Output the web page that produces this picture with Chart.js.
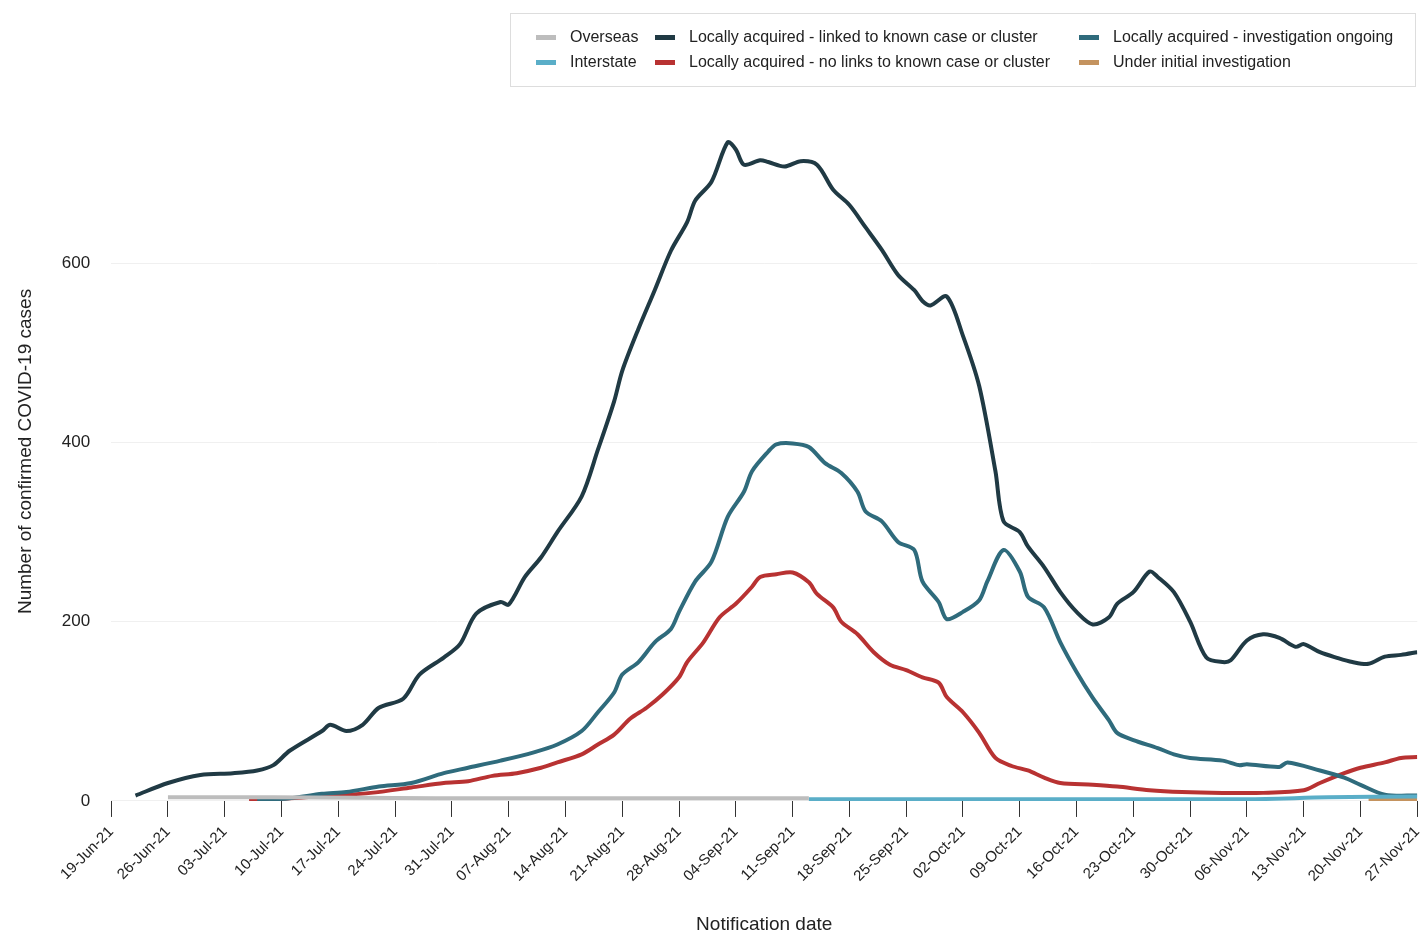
<!DOCTYPE html>
<html><head><meta charset="utf-8">
<script src="https://cdn.jsdelivr.net/npm/chart.js@4"></script>
<style>
body{margin:0;background:#fff;font-family:Arial,"Liberation Sans",sans-serif;overflow:hidden}
#wrap{position:relative;width:1424px;height:936px;overflow:hidden}
#legend{position:absolute;left:510px;top:13px;width:906px;height:74px;border:1px solid #ddd;box-sizing:border-box;font-size:16px;color:#222}
.it{position:absolute;display:flex;align-items:center;white-space:nowrap}
.sw{width:20px;height:5px;margin-right:14px}
</style></head><body>
<div id="wrap"><canvas id="c" width="1436" height="936"></canvas>
<div id="legend"></div></div>
<script>
const startDate = new Date(2021,5,19);
const linkedDays = [3,7,11,15,18,20,22,26,27,29,31,33,36,38,41,43,45,48,49,51,53,55,58,60,62,63,65,67,69,71,72,74,76,77,78,80,81,83,85,87,89,91,93,95,97,99,100,101,103,105,107,109,110,112,113,115,117,119,121,123,124,126,128,129,131,133,135,137,138,140,142,144,146,147,149,151,153,155,157,159,161];
const linkedVals = [6,20,29,31,34,40,56,78,85,78,85,104,114,141,160,175,209,222,219,250,272,300,340,392,446,480,527,570,614,646,670,691,735,727,710,715,713,708,714,710,682,665,640,615,587,570,558,553,563,519,463,368,312,300,284,261,233,211,197,205,220,233,256,250,233,200,160,155,157,179,186,182,172,175,166,160,155,153,161,163,166];
const invDays = [18,22,26,29,33,37,41,44,48,52,55,58,60,62,63,65,67,69,70,72,74,76,78,79,81,82,84,86,88,90,92,93,95,97,99,100,102,103,105,107,108,110,112,113,115,117,119,121,123,124,126,129,131,133,137,139,140,144,145,149,152,154,157,161];
const invVals = [1,3,8,10,16,20,31,37,45,54,63,78,99,121,141,155,177,192,211,245,267,317,345,368,390,398,399,395,377,366,345,323,312,289,280,245,222,203,211,224,245,280,256,228,216,177,144,115,90,76,68,59,52,48,45,40,41,38,43,34,26,18,7,6];
const noLinkDays = [17,22,27,32,37,41,44,47,50,53,55,58,60,62,64,66,68,70,71,73,75,77,79,80,82,84,86,87,89,90,92,94,96,98,100,102,103,105,107,109,111,113,115,117,121,124,128,132,137,142,147,149,152,154,157,159,161];
const noLinkVals = [1,3,6,9,15,20,22,28,31,37,43,52,63,74,92,104,119,138,155,177,205,220,239,250,253,255,244,231,216,200,186,166,152,146,138,132,116,99,76,48,39,34,26,20,18,16,12,10,9,9,12,20,31,37,43,48,49];
const overseasDays = [7,20,40,60,86];
const overseasVals = [4,4,3,3,3];
const interstateDays = [86,110,140,150,161];
const interstateVals = [2,2,2,4,5];
const initialDays = [155,161];
const initialVals = [1,1];

const xy=(d,v)=>d.map((x,i)=>({x,y:v[i]}));
const fmt=d=>{const dt=new Date(startDate);dt.setDate(dt.getDate()+d);
 const m=["Jan","Feb","Mar","Apr","May","Jun","Jul","Aug","Sep","Oct","Nov","Dec"][dt.getMonth()];
 return String(dt.getDate()).padStart(2,"0")+"-"+m+"-21";};
const series=[
 {label:"Overseas",c:"#bdbdbd",d:xy(overseasDays,overseasVals),lx:25,ly:24},
 {label:"Interstate",c:"#5aaec8",d:xy(interstateDays,interstateVals),lx:25,ly:49},
 {label:"Locally acquired - linked to known case or cluster",c:"#203a44",d:xy(linkedDays,linkedVals),lx:144,ly:24},
 {label:"Locally acquired - no links to known case or cluster",c:"#b83232",d:xy(noLinkDays,noLinkVals),lx:144,ly:49},
 {label:"Locally acquired - investigation ongoing",c:"#2f6b7c",d:xy(invDays,invVals),lx:568,ly:24},
 {label:"Under initial investigation",c:"#c4935f",d:xy(initialDays,initialVals),lx:568,ly:49}
];
const lg=document.getElementById('legend');
series.forEach(s=>{const e=document.createElement('div');e.className='it';e.style.left=s.lx+'px';e.style.top=(s.ly-10)+'px';
 e.innerHTML='<span class="sw" style="background:'+s.c+'"></span>'+s.label;lg.appendChild(e);});
const order=[0,1,4,3,2,5];
new Chart(document.getElementById('c'),{type:'line',
 data:{datasets:order.map(i=>({label:series[i].label,data:series[i].d,borderColor:series[i].c,borderWidth:4,pointRadius:0,tension:0.3,fill:false}))},
 options:{responsive:false,animation:false,
  layout:{padding:{top:102,right:0,left:10,bottom:0}},
  plugins:{legend:{display:false},tooltip:{enabled:false}},
  scales:{
   x:{type:'linear',min:0,max:161,
     afterBuildTicks:a=>{a.ticks=[];for(let d=0;d<=161;d+=7)a.ticks.push({value:d});},
     ticks:{callback:v=>fmt(v),maxRotation:45,minRotation:45,color:'#222',font:{size:15},autoSkip:false,padding:6},
     grid:{drawOnChartArea:false,color:'#333',tickLength:16},border:{display:false},
     title:{display:true,text:'Notification date',color:'#222',font:{size:19},padding:{top:22,bottom:0}}},
   y:{min:0,max:780,
     afterBuildTicks:a=>{a.ticks=[0,200,400,600].map(v=>({value:v}));},
     ticks:{color:'#222',font:{size:17},padding:21},
     grid:{color:'#f0f0f0',drawTicks:false},border:{display:false},
     title:{display:true,text:'Number of confirmed COVID-19 cases',color:'#222',font:{size:19}}}
  }}});
</script></body></html>
